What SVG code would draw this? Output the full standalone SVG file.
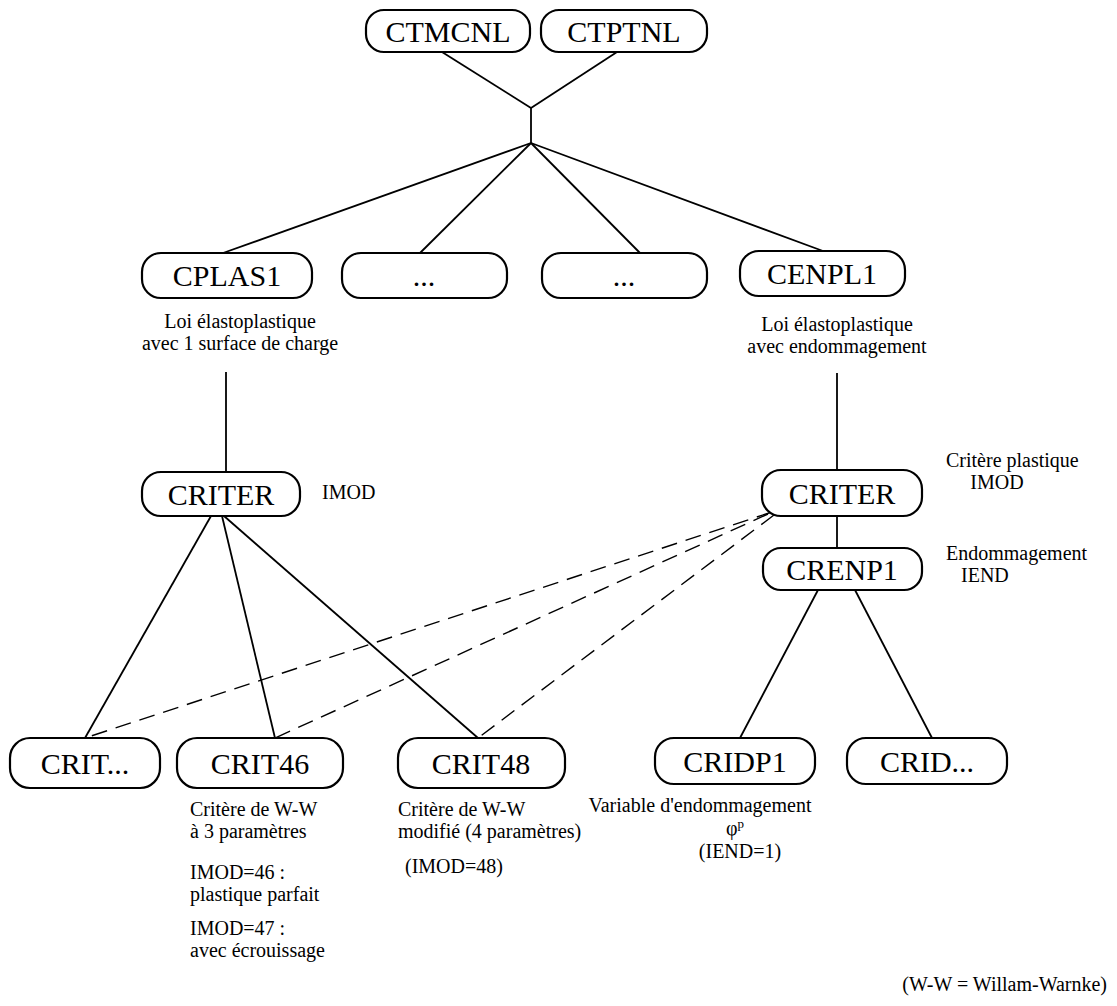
<svg xmlns="http://www.w3.org/2000/svg" width="1117" height="1006" viewBox="0 0 1117 1006">
<style>
.box{fill:#fff;stroke:#000;stroke-width:2.2}
.nl{font-family:"Liberation Serif","Times New Roman",serif;font-size:30px;text-anchor:middle;fill:#000}
.lb{font-family:"Liberation Serif","Times New Roman",serif;font-size:20px;fill:#000}
.c{text-anchor:middle}
.ln{stroke:#000;stroke-width:1.8;fill:none}
.dl{stroke:#000;stroke-width:1.4;fill:none;stroke-dasharray:16 9}
</style>
<rect width="1117" height="1006" fill="#fff"/>
<g id="connectors">
<line class="ln" x1="442" y1="52" x2="531" y2="108"/>
<line class="ln" x1="617" y1="52" x2="531" y2="108"/>
<line class="ln" x1="531" y1="108" x2="531" y2="143"/>
<line class="ln" x1="531" y1="143" x2="223" y2="253"/>
<line class="ln" x1="531" y1="143" x2="420" y2="253"/>
<line class="ln" x1="531" y1="143" x2="640" y2="253"/>
<line class="ln" x1="531" y1="143" x2="823" y2="251"/>
<line class="ln" x1="226" y1="372" x2="226" y2="472"/>
<line class="ln" x1="837" y1="373" x2="837" y2="470"/>
<line class="ln" x1="837" y1="516" x2="837" y2="548"/>
<line class="ln" x1="211" y1="516" x2="85" y2="738"/>
<line class="ln" x1="222" y1="516" x2="275" y2="738"/>
<line class="ln" x1="224" y1="516" x2="478" y2="738"/>
<line class="dl" x1="772" y1="512" x2="85" y2="738"/>
<line class="dl" x1="768" y1="514" x2="275" y2="738"/>
<line class="dl" x1="774" y1="515" x2="478" y2="738"/>
<line class="ln" x1="818" y1="590" x2="740" y2="738"/>
<line class="ln" x1="855" y1="590" x2="932" y2="738"/>
</g>
<g id="ctmcnl"><rect class="box" x="366" y="10" width="164" height="42" rx="18"/><text class="nl" x="448" y="42">CTMCNL</text></g>
<g id="ctptnl"><rect class="box" x="541" y="10" width="166" height="42" rx="18"/><text class="nl" x="624" y="42">CTPTNL</text></g>
<g id="cplas1"><rect class="box" x="142" y="253" width="170" height="45" rx="19"/><text class="nl" x="227" y="286">CPLAS1</text>
<text class="lb c" x="240" y="328">Loi élastoplastique</text><text class="lb c" x="240" y="350">avec 1 surface de charge</text></g>
<g id="dots1"><rect class="box" x="342" y="253" width="165" height="45" rx="19"/><text class="nl" x="424" y="286">...</text></g>
<g id="dots2"><rect class="box" x="542" y="253" width="165" height="45" rx="19"/><text class="nl" x="624" y="286">...</text></g>
<g id="cenpl1"><rect class="box" x="740" y="251" width="165" height="45" rx="19"/><text class="nl" x="822" y="284">CENPL1</text>
<text class="lb c" x="837" y="331">Loi élastoplastique</text><text class="lb c" x="837" y="353">avec endommagement</text></g>
<g id="criter-left"><rect class="box" x="142" y="472" width="158" height="44" rx="19"/><text class="nl" x="221" y="505">CRITER</text>
<text class="lb" x="322" y="499" font-size="18">IMOD</text></g>
<g id="criter-right"><rect class="box" x="762" y="470" width="160" height="46" rx="19"/><text class="nl" x="842" y="504">CRITER</text>
<text class="lb" x="946" y="467">Critère plastique</text><text class="lb c" x="997" y="489">IMOD</text></g>
<g id="crenp1"><rect class="box" x="763" y="548" width="159" height="42" rx="18"/><text class="nl" x="842" y="580">CRENP1</text>
<text class="lb" x="946" y="560">Endommagement</text><text class="lb" x="961" y="582">IEND</text></g>
<g id="crit-etc"><rect class="box" x="10" y="738" width="150" height="50" rx="20"/><text class="nl" x="85" y="774">CRIT...</text></g>
<g id="crit46"><rect class="box" x="177" y="738" width="166" height="50" rx="20"/><text class="nl" x="260" y="774">CRIT46</text>
<text class="lb" x="190" y="816">Critère de W-W</text><text class="lb" x="190" y="838">à 3 paramètres</text>
<text class="lb" x="190" y="879">IMOD=46 :</text><text class="lb" x="190" y="901">plastique parfait</text>
<text class="lb" x="190" y="935">IMOD=47 :</text><text class="lb" x="190" y="957">avec écrouissage</text></g>
<g id="crit48"><rect class="box" x="398" y="738" width="167" height="50" rx="20"/><text class="nl" x="481" y="774">CRIT48</text>
<text class="lb" x="398" y="816">Critère de W-W</text><text class="lb" x="398" y="838">modifié (4 paramètres)</text>
<text class="lb" x="405" y="873">(IMOD=48)</text></g>
<g id="cridp1"><rect class="box" x="655" y="738" width="160" height="46" rx="19"/><text class="nl" x="735" y="772">CRIDP1</text>
<text class="lb c" x="700" y="812">Variable d'endommagement</text>
<text class="lb c" x="735" y="835">φ<tspan font-size="13" dy="-7">p</tspan></text>
<text class="lb c" x="740" y="858">(IEND=1)</text></g>
<g id="crid-etc"><rect class="box" x="847" y="738" width="160" height="46" rx="19"/><text class="nl" x="927" y="772">CRID...</text></g>
<text class="lb" x="1107" y="991" text-anchor="end">(W-W = Willam-Warnke)</text>
</svg>
